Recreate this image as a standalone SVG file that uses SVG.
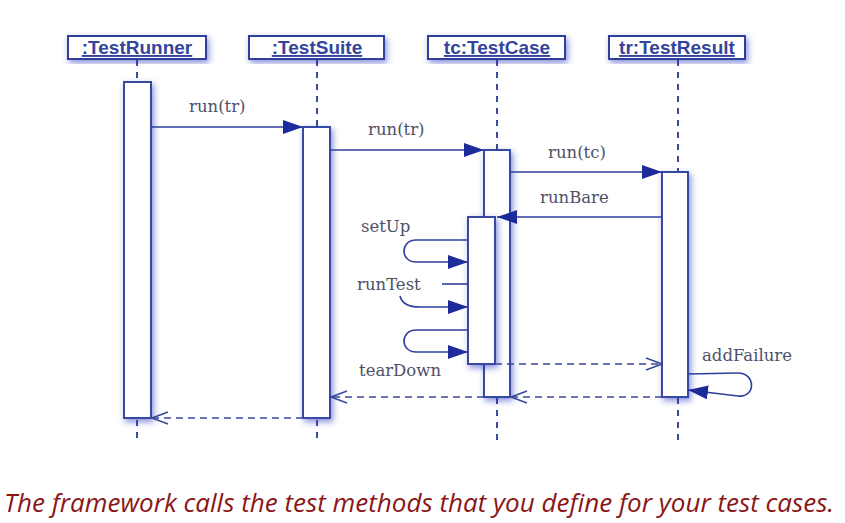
<svg xmlns="http://www.w3.org/2000/svg" width="845" height="523" viewBox="0 0 845 523">
<style>
.box{fill:#fff;stroke:#2f3f9c;stroke-width:2;filter:url(#sh)}
.act{fill:#fff;stroke:#3848a4;stroke-width:2;filter:url(#sh)}
.hd{font-family:"Liberation Sans",Arial,sans-serif;font-weight:bold;font-size:19px;fill:#34449c;text-anchor:middle;text-decoration:underline}
.life{stroke:#3a4a9a;stroke-width:2;stroke-dasharray:6,6;fill:none}
.msg{stroke:#2f3f9c;stroke-width:1.6;fill:none}
.ret{stroke:#3a4a9a;stroke-width:1.6;fill:none;stroke-dasharray:7,5}
.lbl{font-family:"DejaVu Serif","Liberation Serif",serif;font-size:16.5px;fill:#4e5068}
.cap{font-family:"Open Sans","Liberation Sans",sans-serif;font-style:italic;font-size:25px;fill:#8a1616}
</style>
<defs>
<filter id="sh" x="-50%" y="-20%" width="200%" height="140%">
<feDropShadow dx="2" dy="3" stdDeviation="3" flood-color="#2838c0" flood-opacity="0.55"/>
</filter>
<marker id="fa" viewBox="0 0 20 14" refX="20" refY="7" markerWidth="20" markerHeight="14" markerUnits="userSpaceOnUse" orient="auto">
<path d="M0,0 L20,7 L0,14 Z" fill="#1c2a9a"/>
</marker>
<marker id="oa" viewBox="0 0 18 14" refX="17" refY="7" markerWidth="18" markerHeight="14" markerUnits="userSpaceOnUse" orient="auto">
<path d="M1,1 L17,7 L1,13" fill="none" stroke="#3a4a9a" stroke-width="1.6"/>
</marker>
</defs>
<rect width="845" height="523" fill="#fff"/>

<g id="lifelines">
<line class="life" x1="137" y1="60" x2="137" y2="82"/>
<line class="life" x1="137" y1="420" x2="137" y2="442"/>
<line class="life" x1="317" y1="60" x2="317" y2="127"/>
<line class="life" x1="317" y1="420" x2="317" y2="442"/>
<line class="life" x1="497" y1="60" x2="497" y2="150"/>
<line class="life" x1="497" y1="398" x2="497" y2="442"/>
<line class="life" x1="678" y1="60" x2="678" y2="172"/>
<line class="life" x1="678" y1="398" x2="678" y2="442"/>
</g>

<g id="testrunner">
<rect class="box" x="68" y="36" width="138" height="23"/>
<text class="hd" x="137" y="54">:TestRunner</text>
<rect class="act" x="124" y="82" width="27" height="336"/>
</g>
<g id="testsuite">
<rect class="box" x="249" y="36" width="135" height="23"/>
<text class="hd" x="317" y="54">:TestSuite</text>
<rect class="act" x="303" y="127" width="27" height="291"/>
</g>
<g id="testcase">
<rect class="box" x="428" y="36" width="137" height="23"/>
<text class="hd" x="497" y="54">tc:TestCase</text>
<rect class="act" x="484" y="150" width="26" height="247"/>
<rect class="act" x="468" y="217" width="27" height="147"/>
</g>
<g id="testresult">
<rect class="box" x="609" y="36" width="136" height="23"/>
<text class="hd" x="677" y="54">tr:TestResult</text>
<rect class="act" x="662" y="172" width="26" height="225"/>
</g>

<g id="connectors">
<line class="msg" x1="151" y1="127" x2="303" y2="127" marker-end="url(#fa)"/>
<line class="msg" x1="330" y1="150" x2="484" y2="150" marker-end="url(#fa)"/>
<line class="msg" x1="510" y1="172" x2="662" y2="172" marker-end="url(#fa)"/>
<line class="msg" x1="662" y1="217" x2="497" y2="217" marker-end="url(#fa)"/>
<path class="msg" d="M468,240 L416,240 C400,240 400,262 416,262 L468,262" marker-end="url(#fa)"/>
<line class="msg" x1="468" y1="284" x2="442" y2="284"/>
<path class="msg" d="M400,296 C402,305 410,307 420,307 L468,307" marker-end="url(#fa)"/>
<path class="msg" d="M468,330 L416,330 C400,330 400,352 416,352 L468,352" marker-end="url(#fa)"/>
<path class="msg" d="M688,374 L738,373 C756,373 756,398 738,396 L688,390" marker-end="url(#fa)"/>
<line class="ret" x1="495" y1="364" x2="662" y2="364" marker-end="url(#oa)"/>
<line class="ret" x1="662" y1="397" x2="511" y2="397" marker-end="url(#oa)"/>
<line class="ret" x1="484" y1="397" x2="331" y2="397" marker-end="url(#oa)"/>
<line class="ret" x1="303" y1="418" x2="152" y2="418" marker-end="url(#oa)"/>
</g>

<g id="labels">
<text class="lbl" x="189" y="112">run(tr)</text>
<text class="lbl" x="368" y="135">run(tr)</text>
<text class="lbl" x="548" y="158">run(tc)</text>
<text class="lbl" x="540" y="203">runBare</text>
<text class="lbl" x="361" y="232">setUp</text>
<text class="lbl" x="357" y="290">runTest</text>
<text class="lbl" x="359" y="376">tearDown</text>
<text class="lbl" x="702" y="361">addFailure</text>
</g>

<text class="cap" x="4" y="512" textLength="830" lengthAdjust="spacingAndGlyphs">The framework calls the test methods that you define for your test cases.</text>
</svg>
